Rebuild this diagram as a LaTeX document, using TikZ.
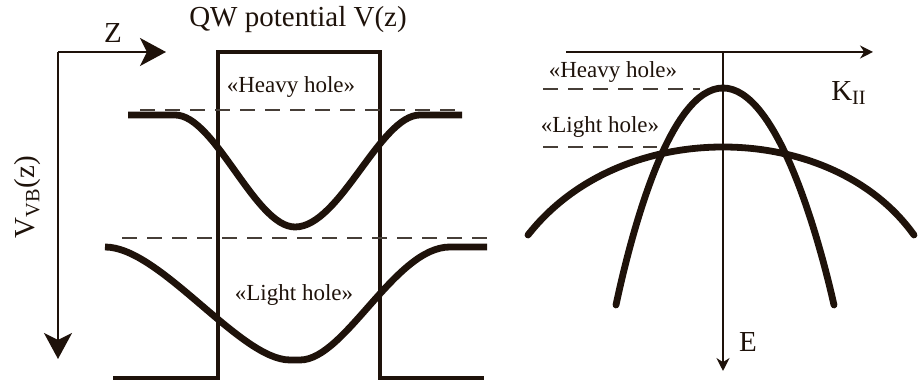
\documentclass[tikz,border=0pt]{standalone}
\usepackage{fontspec}
\setmainfont{Liberation Serif}
\usetikzlibrary{arrows.meta}
\definecolor{inkBrown}{RGB}{30,18,10}
\definecolor{dashGrey}{RGB}{70,62,55}
\tikzset{
	axisbig/.style={-{Stealth[length=13pt, width=14pt, inset=3.5pt]}, line width=1.1pt, draw=inkBrown},
	axissmall/.style={-{Stealth[length=6.5pt, width=6.5pt]}, line width=0.7pt, draw=inkBrown},
	wellline/.style={line width=2pt, draw=inkBrown},
	band/.style={line width=3.4pt, draw=inkBrown},
	level/.style={line width=0.6pt, draw=dashGrey, dash pattern=on 7.5pt off 5pt},
	bigtxt/.style={font=\fontsize{14.5}{16}\selectfont, text=inkBrown, inner sep=0pt},
	holetxt/.style={font=\fontsize{11.5}{13}\selectfont, text=inkBrown, inner sep=0pt}
}

\begin{document}
\begin{tikzpicture}[x=0.5pt, y=-0.5pt]
	\useasboundingbox (0,0) rectangle (918,383);
	% left: z axis and V axis
	\coordinate (org) at (58,52);
	\coordinate (zend) at (166,52);
	\coordinate (vend) at (58,359);
	\draw[axisbig] (org) -- (zend);
	\draw[axisbig] (org) -- (vend);
	\node[bigtxt] (zlab) at (113,33) {Z};
	\node[bigtxt, rotate=90] (vlab) at (28,197) {V\textsubscript{VB}(z)};
	\node[bigtxt] (title) at (298,20) {QW potential V(z)};
	% quantum well
	\coordinate (w1) at (113,378);
	\coordinate (w2) at (218,378);
	\coordinate (w3) at (218,52);
	\coordinate (w4) at (380,52);
	\coordinate (w5) at (380,378);
	\coordinate (w6) at (484,378);
	\draw[wellline] (w1) -- (w2) -- (w3) -- (w4) -- (w5) -- (w6);
	% right: K and E axes
	\coordinate (korg) at (566,52);
	\coordinate (kend) at (873,52);
	\coordinate (etop) at (723,52);
	\coordinate (eend) at (723,371);
	\draw[axissmall] (korg) -- (kend);
	\draw[axissmall] (etop) -- (eend);
	\node[bigtxt] (klab) at (849,93) {K\textsubscript{II}};
	\node[bigtxt] (elab) at (748,342) {E};
	% dashed levels
	\coordinate (hhL) at (140,110);
	\coordinate (hhR) at (462,110);
	\coordinate (lhL) at (122,238);
	\coordinate (lhR) at (487,238);
	\coordinate (khL) at (543,89);
	\coordinate (khR) at (700,89);
	\coordinate (klL) at (543,147);
	\coordinate (klR) at (657,147);
	\foreach \a/\b in {hhL/hhR, lhL/lhR, khL/khR, klL/klR}
		\draw[level] (\a) -- (\b);
	% bands in the well
	\draw[band] (128,115) -- (175,115) .. controls (215,115) and (255,227) .. (295,227)
		.. controls (340,227) and (380,115) .. (420,115) -- (462,115);
	\draw[band] (105,247) .. controls (160,247) and (240,360) .. (290,360) -- (300,360)
		.. controls (345,360) and (395,247) .. (450,247) -- (487,247);
	% dispersion
	\draw[band, line cap=round] (616,305) .. controls (632,230) and (670,88) .. (723,88)
		.. controls (776,88) and (817,230) .. (834,305);
	\draw[band, line cap=round] (528,235) .. controls (575,175) and (650,147) .. (723,147)
		.. controls (796,147) and (871,175) .. (914,235);
	% labels
	\node[holetxt] (hhlab) at (291,87) {«Heavy hole»};
	\node[holetxt] (lhlab) at (294,295) {«Light hole»};
	\node[holetxt] (khlab) at (613,72) {«Heavy hole»};
	\node[holetxt] (kllab) at (600,127) {«Light hole»};
\end{tikzpicture}
\end{document}
